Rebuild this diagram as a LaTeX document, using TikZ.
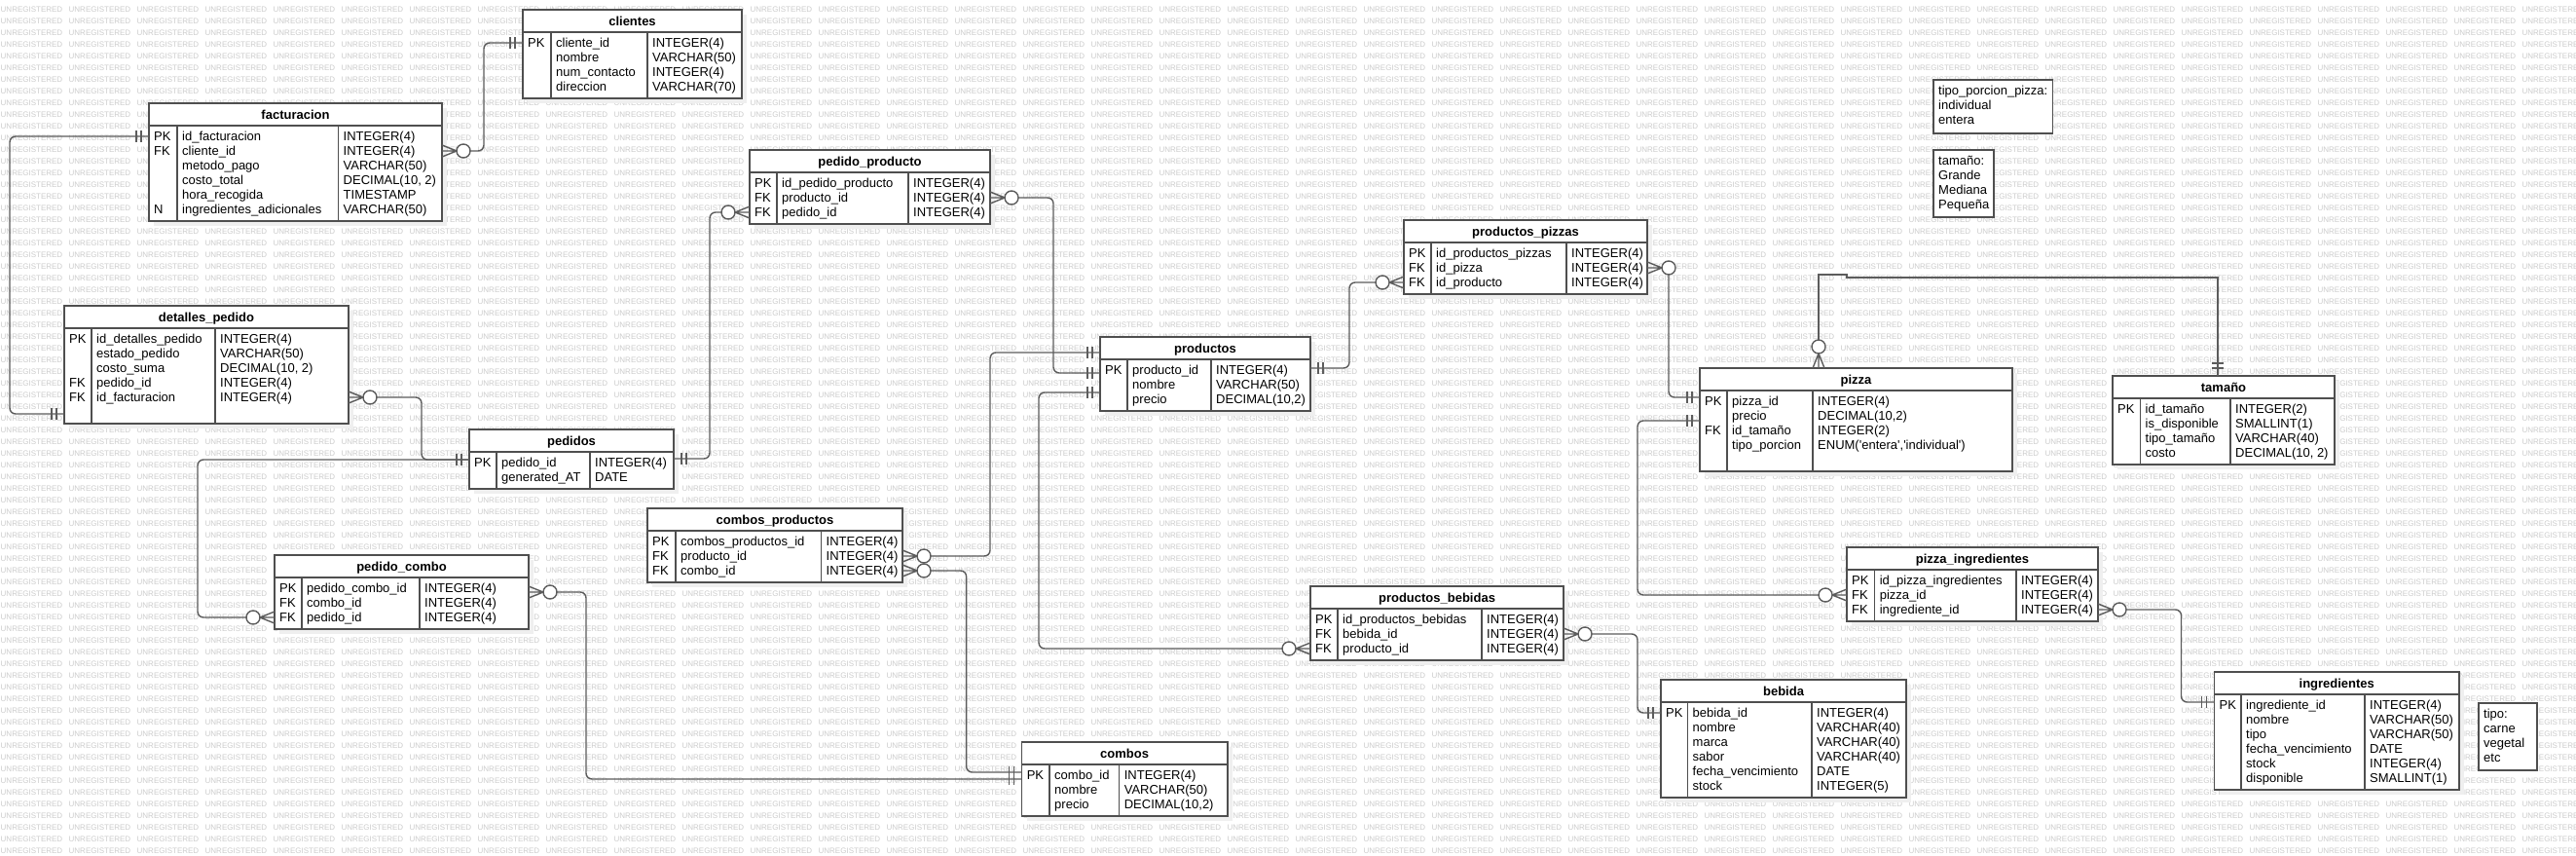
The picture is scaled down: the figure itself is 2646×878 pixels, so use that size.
\documentclass[tikz,border=0pt]{standalone}
\usepackage{fontspec}
\setmainfont{Liberation Sans}
\definecolor{bordc}{HTML}{4F4F4F}
\definecolor{linec}{HTML}{5C5C5C}
\definecolor{wmc}{HTML}{CCCCCC}
\definecolor{shadc}{HTML}{EFEFEF}
\newsavebox{\wmbox}
\tikzset{
 tblbox/.style={draw=bordc, line width=1.6pt, fill=white, inner sep=0pt, outer sep=0pt},
 bord/.style={draw=bordc, line width=1.6pt},
 titletxt/.style={anchor=base, inner sep=0pt, font=\fontsize{13pt}{15pt}\selectfont\bfseries},
 celltxt/.style={anchor=base west, inner sep=0pt, font=\fontsize{13pt}{15pt}\selectfont},
 conn/.style={draw=linec, line width=1.4pt, rounded corners=6pt},
 connsharp/.style={draw=linec, line width=1.4pt},
 deco/.style={draw=linec, line width=1.4pt},
 notebox/.style={draw=bordc, line width=1.6pt, fill=white, inner sep=0pt, outer sep=0pt, anchor=north west},
}
% #1 name #2 title #3 left #4 top #5 right #6 pk divider #7 type divider #8 rows #9 list
\newcommand{\ertab}[9]{%
 \pgfmathsetmacro\tabB{#4+31+15*#8}%
 \fill[shadc] (#3+5,#4+5) rectangle (#5+5,\tabB+5);
 \node[tblbox, anchor=north west, minimum width={(#5-#3)*1pt}, minimum height={(\tabB-#4)*1pt}] (#1) at (#3,#4) {};
 \draw[bord] (#3,#4+23) -- (#5,#4+23);
 \draw[bord] (#6,#4+23) -- (#6,\tabB);
 \draw[bord] (#7,#4+23) -- (#7,\tabB);
 \node[titletxt] (#1-title) at ({(#3+#5)/2},#4+16.2) {#2};
 \foreach \i in {1,...,#8}{\coordinate (#1R\i) at (#3,{#4+19+15*\i});}
 \foreach \kk/\nm/\ty [count=\i] in {#9}{%
   \node[celltxt] (#1K\i) at (#3+5,{#4+23.7+15*\i}) {\kk};
   \node[celltxt] (#1N\i) at (#6+5,{#4+23.7+15*\i}) {\nm};
   \node[celltxt] (#1T\i) at (#7+5,{#4+23.7+15*\i}) {\ty};
 }%
}
\newcommand\crowE[1]{%
 \draw[deco] ([yshift=6pt]#1) -- ([xshift=15pt]#1) -- ([yshift=-6pt]#1) (#1) -- ([xshift=15pt]#1);
 \draw[deco, fill=white] ([xshift=22pt]#1) circle[radius=7pt];}
\newcommand\crowW[1]{%
 \draw[deco] ([yshift=6pt]#1) -- ([xshift=-15pt]#1) -- ([yshift=-6pt]#1) (#1) -- ([xshift=-15pt]#1);
 \draw[deco, fill=white] ([xshift=-22pt]#1) circle[radius=7pt];}
\newcommand\crowN[1]{%
 \draw[deco] ([xshift=-6pt]#1) -- ([yshift=15pt]#1) -- ([xshift=6pt]#1) (#1) -- ([yshift=15pt]#1);
 \draw[deco, fill=white] ([yshift=22pt]#1) circle[radius=7pt];}
\newcommand\barsW[1]{%
 \draw[deco] ([xshift=-8pt,yshift=6pt]#1) -- ([xshift=-8pt,yshift=-6pt]#1) ([xshift=-13pt,yshift=6pt]#1) -- ([xshift=-13pt,yshift=-6pt]#1);}
\newcommand\barsE[1]{%
 \draw[deco] ([xshift=8pt,yshift=6pt]#1) -- ([xshift=8pt,yshift=-6pt]#1) ([xshift=13pt,yshift=6pt]#1) -- ([xshift=13pt,yshift=-6pt]#1);}
\newcommand\barsN[1]{%
 \draw[deco] ([xshift=-6pt,yshift=8pt]#1) -- ([xshift=6pt,yshift=8pt]#1) ([xshift=-6pt,yshift=13pt]#1) -- ([xshift=6pt,yshift=13pt]#1);}
\begin{document}
\sbox{\wmbox}{\fontsize{8pt}{8pt}\selectfont\color{wmc}\foreach \i in {1,...,38}{\makebox[70pt][l]{UNREGISTERED}}}%
\begin{tikzpicture}[x=1pt,y=-1pt]
\useasboundingbox (0,0) rectangle (2646,878);
\fill[white] (0,0) rectangle (2646,878);
\begin{scope}
\clip (0,0) rectangle (2646,878);
\foreach \r in {0,...,72}{\node[anchor=base west, inner sep=0pt] (wm\r) at (0.5,{12.2+12*\r}) {\usebox{\wmbox}};}
\end{scope}

% ---------- tables ----------
\ertab{cli}{clientes}{537}{10}{762}{566}{665}{4}{PK/cliente\_id/INTEGER(4), {}/nombre/VARCHAR(50), {}/num\_contacto/INTEGER(4), {}/direccion/VARCHAR(70)}
\ertab{fac}{facturacion}{153}{106}{454}{182}{347.5}{6}{PK/id\_facturacion/INTEGER(4), FK/cliente\_id/INTEGER(4), {}/metodo\_pago/VARCHAR(50), {}/costo\_total/{DECIMAL(10, 2)}, {}/hora\_recogida/TIMESTAMP, N/ingredientes\_adicionales/VARCHAR(50)}
\ertab{det}{detalles\_pedido}{66}{314}{358}{94}{221}{6}{PK/id\_detalles\_pedido/INTEGER(4), {}/estado\_pedido/VARCHAR(50), {}/costo\_suma/{DECIMAL(10, 2)}, FK/pedido\_id/INTEGER(4), FK/id\_facturacion/INTEGER(4)}
\ertab{pp}{pedido\_producto}{770}{154}{1017}{798}{933}{3}{PK/id\_pedido\_producto/INTEGER(4), FK/producto\_id/INTEGER(4), FK/pedido\_id/INTEGER(4)}
\ertab{prod}{productos}{1130}{346}{1346}{1158}{1244}{3}{PK/producto\_id/INTEGER(4), {}/nombre/VARCHAR(50), {}/precio/{DECIMAL(10,2)}}
\ertab{ppz}{productos\_pizzas}{1442}{226}{1692}{1470}{1609}{3}{PK/id\_productos\_pizzas/INTEGER(4), FK/id\_pizza/INTEGER(4), FK/id\_producto/INTEGER(4)}
\ertab{piz}{pizza}{1746}{378}{2067}{1774}{1862}{5}{PK/pizza\_id/INTEGER(4), {}/precio/{DECIMAL(10,2)}, FK/id\_tamaño/INTEGER(2), {}/tipo\_porcion/{ENUM(\textquotesingle entera\textquotesingle,\textquotesingle individual\textquotesingle)}}
\ertab{tam}{tamaño}{2170}{386}{2398}{2198.5}{2291}{4}{PK/id\_tamaño/INTEGER(2), {}/is\_disponible/SMALLINT(1), {}/tipo\_tamaño/VARCHAR(40), {}/costo/{DECIMAL(10, 2)}}
\ertab{ped}{pedidos}{482}{441}{692}{510}{606}{2}{PK/pedido\_id/INTEGER(4), {}/generated\_AT/DATE}
\ertab{pc}{pedido\_combo}{282}{570}{543}{310}{431}{3}{PK/pedido\_combo\_id/INTEGER(4), FK/combo\_id/INTEGER(4), FK/pedido\_id/INTEGER(4)}
\ertab{cp}{combos\_productos}{665}{522}{927}{694}{843.5}{3}{PK/combos\_productos\_id/INTEGER(4), FK/producto\_id/INTEGER(4), FK/combo\_id/INTEGER(4)}
\ertab{com}{combos}{1049.6}{762}{1260.7}{1078}{1149.6}{3}{PK/combo\_id/INTEGER(4), {}/nombre/VARCHAR(50), {}/precio/{DECIMAL(10,2)}}
\ertab{pb}{productos\_bebidas}{1346}{602}{1606}{1374}{1522}{3}{PK/id\_productos\_bebidas/INTEGER(4), FK/bebida\_id/INTEGER(4), FK/producto\_id/INTEGER(4)}
\ertab{beb}{bebida}{1706}{698}{1958}{1733.5}{1861}{6}{PK/bebida\_id/INTEGER(4), {}/nombre/VARCHAR(40), {}/marca/VARCHAR(40), {}/sabor/VARCHAR(40), {}/fecha\_vencimiento/DATE, {}/stock/INTEGER(5)}
\ertab{pzi}{pizza\_ingredientes}{1897}{562}{2155}{1925.6}{2071}{3}{PK/id\_pizza\_ingredientes/INTEGER(4), FK/pizza\_id/INTEGER(4), FK/ingrediente\_id/INTEGER(4)}
\ertab{ing}{ingredientes}{2274.5}{690}{2526}{2302}{2429}{6}{PK/ingrediente\_id/INTEGER(4), {}/nombre/VARCHAR(50), {}/tipo/VARCHAR(50), {}/fecha\_vencimiento/DATE, {}/stock/INTEGER(4), {}/disponible/SMALLINT(1)}

% ---------- notes ----------
\node[notebox, minimum width=122.5pt, minimum height=55pt] (nt1) at (1986,82) {};
\node[celltxt] (nt1a) at (1991,97.7) {tipo\_porcion\_pizza:};
\node[celltxt] (nt1b) at (1991,112.7) {individual};
\node[celltxt] (nt1c) at (1991,127.7) {entera};
\node[notebox, minimum width=62pt, minimum height=69pt] (nt2) at (1986,154) {};
\node[celltxt] (nt2a) at (1991,169.7) {tamaño:};
\node[celltxt] (nt2b) at (1991,184.7) {Grande};
\node[celltxt] (nt2c) at (1991,199.7) {Mediana};
\node[celltxt] (nt2d) at (1991,214.7) {Pequeña};
\node[notebox, minimum width=60pt, minimum height=69pt] (nt3) at (2546,722) {};
\node[celltxt] (nt3a) at (2551,737.7) {tipo:};
\node[celltxt] (nt3b) at (2551,752.7) {carne};
\node[celltxt] (nt3c) at (2551,767.7) {vegetal};
\node[celltxt] (nt3d) at (2551,782.7) {etc};

% ---------- connection points ----------
\coordinate (a1) at (fac.east |- facR2);
\coordinate (b1) at (cli.west |- cliR1);
\coordinate (a2) at (fac.west |- facR1);
\coordinate (b2) at ([yshift=-111pt]det.north west);
\coordinate (a3) at (det.east |- detR5);
\coordinate (b3) at ([yshift=-31pt]ped.north west);
\coordinate (a4) at (pc.west |- pcR3);
\coordinate (a5) at (pp.west |- ppR3);
\coordinate (b5) at ([yshift=-30pt]ped.north east);
\coordinate (a6) at (pp.east |- ppR2);
\coordinate (b6) at ([yshift=-37pt]prod.north west);
\coordinate (a7) at (cp.east |- cpR2);
\coordinate (b7) at ([yshift=-16pt]prod.north west);
\coordinate (a8) at (pb.west |- pbR3);
\coordinate (b8) at ([yshift=-57pt]prod.north west);
\coordinate (a9) at (ppz.west |- ppzR3);
\coordinate (b9) at ([yshift=-32pt]prod.north east);
\coordinate (a10) at (ppz.east |- ppzR2);
\coordinate (b10) at ([yshift=-30pt]piz.north west);
\coordinate (a11) at ([xshift=122pt]piz.north west);
\coordinate (b11) at ([xshift=108pt]tam.north west);
\coordinate (a12) at (pzi.west |- pziR2);
\coordinate (b12) at ([yshift=-54pt]piz.north west);
\coordinate (a13) at (pzi.east |- pziR3);
\coordinate (b13) at ([yshift=-31pt]ing.north west);
\coordinate (a14) at (pb.east |- pbR2);
\coordinate (b14) at (beb.west |- bebR1);
\coordinate (a15) at (cp.east |- cpR3);
\coordinate (b15) at ([yshift=-31pt]com.north west);
\coordinate (a16) at ([yshift=-38pt]pc.north east);
\coordinate (b16) at ([yshift=-38pt]com.north west);

% ---------- connectors ----------
\draw[conn] ([xshift=29pt]a1) -- ([xshift=43pt]a1) |- (b1);
\draw[conn] (a2) -| ([xshift=-56pt]b2) -- (b2);
\draw[conn] ([xshift=29pt]a3) -| ([xshift=-49pt]b3) -- (b3);
\draw[conn] ([xshift=-29pt]a4) -| ([xshift=-279pt]b3) -- (b3);
\draw[conn] ([xshift=-29pt]a5) -| ([xshift=37pt]b5) -- (b5);
\draw[conn] ([xshift=29pt]a6) -| ([xshift=-48pt]b6) -- (b6);
\draw[conn] ([xshift=29pt]a7) -| ([xshift=-113pt]b7) -- (b7);
\draw[conn] ([xshift=-29pt]a8) -| ([xshift=-63pt]b8) -- (b8);
\draw[conn] ([xshift=-29pt]a9) -| ([xshift=40pt]b9) -- (b9);
\draw[conn] ([xshift=22pt,yshift=-7pt]a10) |- (b10);
\draw[connsharp] ([yshift=29pt]a11) -- ++(0,-67) -- ++(29,0) -- ++(0,3) -| (b11);
\draw[conn] ([xshift=-29pt]a12) -| ([xshift=-64pt]b12) -- (b12);
\draw[conn] ([xshift=29pt]a13) -| ([xshift=-34pt]b13) -- (b13);
\draw[conn] ([xshift=29pt]a14) -| ([xshift=-24pt]b14) -- (b14);
\draw[conn] ([xshift=29pt]a15) -| ([xshift=-57pt]b15) -- (b15);
\draw[conn] ([xshift=29pt]a16) -- ([xshift=59pt]a16) |- (b16);

% ---------- cardinality marks ----------
\crowE{a1} \barsW{b1}
\barsW{a2} \barsW{b2}
\crowE{a3} \barsW{b3}
\crowW{a4}
\crowW{a5} \barsE{b5}
\crowE{a6} \barsW{b6}
\crowE{a7} \barsW{b7}
\crowW{a8} \barsW{b8}
\crowW{a9} \barsE{b9}
\crowE{a10} \barsW{b10}
\crowN{a11} \barsN{b11}
\crowW{a12} \barsW{b12}
\crowE{a13} \barsW{b13}
\crowE{a14} \barsW{b14}
\crowE{a15} \barsW{b15}
\crowE{a16} \barsW{b16}
\end{tikzpicture}
\end{document}
